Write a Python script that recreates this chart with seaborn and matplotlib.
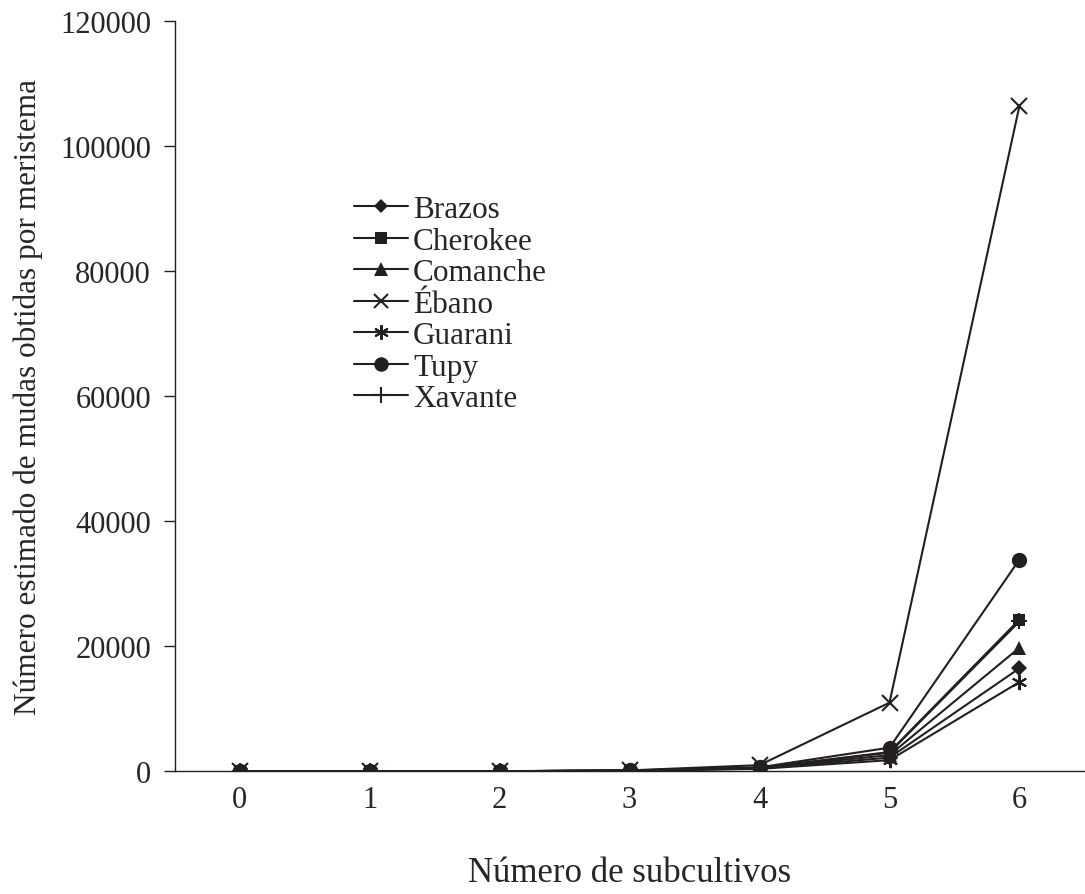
import matplotlib
matplotlib.use("Agg")
import matplotlib.pyplot as plt
import seaborn as sns
import pandas as pd

subcultivos = [0, 1, 2, 3, 4, 5, 6]
brazos = [1, 5, 25, 120, 450, 2200, 16500]
cherokee = [1, 5, 25, 130, 550, 3100, 24300]
comanche = [1, 5, 25, 125, 500, 2600, 19800]
ebano = [1, 6, 30, 160, 1000, 11000, 106500]
guarani = [1, 5, 22, 110, 400, 1800, 14300]
tupy = [1, 6, 30, 150, 650, 3800, 33900]
xavante = [1, 5, 25, 130, 550, 3000, 24000]

cultivares = ["Brazos", "Cherokee", "Comanche", "Ébano", "Guarani", "Tupy", "Xavante"]
series = [brazos, cherokee, comanche, ebano, guarani, tupy, xavante]
markers = ["D", "s", "^", "x", (6, 2, 0), "o", "+"]
msizes = [8, 9, 10, 11, 11, 11, 12]

rows = []
for nome, vals in zip(cultivares, series):
    for x, v in zip(subcultivos, vals):
        rows.append({"sub": x, "mudas": v, "cultivar": nome})
df = pd.DataFrame(rows)

sns.set_style("white")
plt.rcParams["font.family"] = ["Liberation Serif", "DejaVu Serif"]

fig, ax = plt.subplots(figsize=(10.85, 8.95), dpi=100)
for nome, mk, ms in zip(cultivares, markers, msizes):
    d = df[df["cultivar"] == nome]
    sns.lineplot(data=d, x="sub", y="mudas", ax=ax, color="#231f20",
                 marker=mk, markersize=ms, markeredgewidth=1.5 if mk in ("x", "+", (6, 2, 0)) else 0,
                 markeredgecolor="#231f20", linewidth=1.5, label=nome)

ax.set_xlim(-0.5, 6.5)
ax.set_ylim(0, 120000)
ax.set_yticks(range(0, 120001, 20000))
ax.set_xticks(subcultivos)
ax.set_xticks([i - 0.5 for i in range(8)], minor=True)
ax.tick_params(axis="x", which="major", length=0, labelsize=22, pad=10)
ax.tick_params(axis="x", which="minor", length=8, width=1, color="#231f20", direction="out")
ax.tick_params(axis="y", length=8, width=1, color="#231f20", labelsize=22, direction="out", pad=9)
ax.tick_params(left=True)
for s in ["top", "right"]:
    ax.spines[s].set_visible(False)
for s in ["left", "bottom"]:
    ax.spines[s].set_color("#231f20")
    ax.spines[s].set_linewidth(1)

ax.set_xlabel("Número de subcultivos", fontsize=25, labelpad=30)
ax.set_ylabel("Número estimado de mudas obtidas por meristema", fontsize=22.5, labelpad=12)

ax.legend(loc="upper left", bbox_to_anchor=(0.183, 0.785), frameon=False, fontsize=22.5,
          handlelength=1.75, handletextpad=0.15, labelspacing=0.08, borderaxespad=0,
          markerscale=0.95)

fig.subplots_adjust(left=0.161, right=0.9995, top=0.975, bottom=0.137)
fig.savefig("out.png", dpi=100)
